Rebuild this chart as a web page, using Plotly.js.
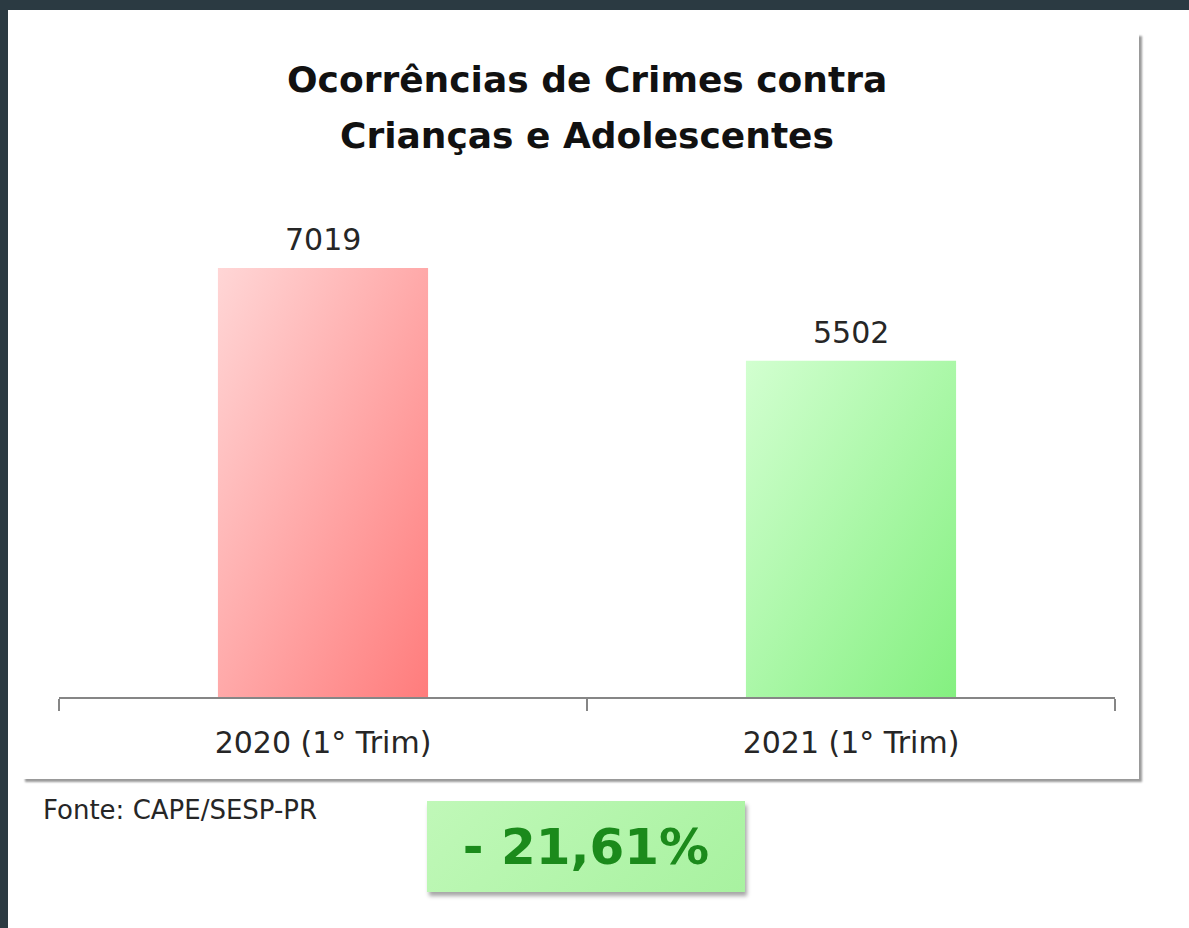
<!DOCTYPE html>
<html><head><meta charset="utf-8">
<script src="https://cdn.plot.ly/plotly-3.0.1.min.js"></script>
<style>
html,body{margin:0;padding:0;}
body{width:1189px;height:928px;background:#2b3a42;position:relative;overflow:hidden;font-family:"DejaVu Sans";}
#sheet{position:absolute;left:8px;top:10px;width:1181px;height:918px;background:#fff;}
#frame{position:absolute;left:22px;top:33px;width:1117px;height:746px;background:#fff;box-shadow:3px 3px 2px rgba(0,0,0,0.4);}
#chart{position:absolute;left:0;top:0;width:1189px;height:928px;}
#badge{position:absolute;left:427px;top:801px;width:318px;height:91px;background:linear-gradient(135deg,#c0f8b8,#a8f2a0);box-shadow:2px 4px 4px rgba(0,0,0,0.35);display:flex;align-items:center;justify-content:center;font-family:"DejaVu Sans";font-weight:bold;font-size:50px;color:#1b8a1b;}
</style></head>
<body>
<div id="sheet"></div>
<div id="frame"></div>
<div id="chart"></div>
<div id="badge"></div>
<script>
const categories = ['2020 (1° Trim)', '2021 (1° Trim)'];
const values = [7019, 5502];
const barColors = ['#ffa8a8', '#a8f5a5'];
const titleLines = ['Ocorrências de Crimes contra', 'Crianças e Adolescentes'];
const sourceText = 'Fonte: CAPE/SESP-PR';

const change = (values[1] - values[0]) / values[0] * 100;
document.getElementById('badge').textContent =
  (change < 0 ? '- ' : '+ ') + Math.abs(change).toFixed(2).replace('.', ',') + '%';

const font = 'DejaVu Sans';
const data = [{
  type: 'bar',
  x: categories,
  y: values,
  marker: {color: barColors, line: {width: 0}},
  hoverinfo: 'none'
}];

const annotations = values.map((v, i) => ({
  x: categories[i], y: v, xref: 'x', yref: 'y',
  text: String(v), showarrow: false, yanchor: 'bottom', yshift: 9,
  font: {family: font, size: 30, color: '#262626'}
}));
annotations.push({
  xref: 'paper', yref: 'paper', x: 0.5, y: 1, yanchor: 'bottom', yshift: 106,
  text: titleLines[0], showarrow: false,
  font: {family: font, size: 36, weight: 'bold', color: '#111'}
});
annotations.push({
  xref: 'paper', yref: 'paper', x: 0.5, y: 1, yanchor: 'bottom', yshift: 50,
  text: titleLines[1], showarrow: false,
  font: {family: font, size: 36, weight: 'bold', color: '#111'}
});
annotations.push({
  xref: 'paper', yref: 'paper', x: -0.017, xanchor: 'left', y: 0, yanchor: 'top', yshift: -96,
  text: sourceText, showarrow: false,
  font: {family: font, size: 26, color: '#262626'}
});

const layout = {
  width: 1189, height: 928,
  margin: {l: 59, r: 74, t: 208, b: 231, pad: 0},
  paper_bgcolor: 'rgba(0,0,0,0)', plot_bgcolor: 'rgba(0,0,0,0)',
  showlegend: false,
  bargap: 0.602,
  xaxis: {
    type: 'category', showline: true, linecolor: '#868686', linewidth: 1.5,
    ticks: 'outside', tickson: 'boundaries', ticklen: 12, tickcolor: '#868686', tickwidth: 1.5,
    ticklabelstandoff: 18, showgrid: false, zeroline: false,
    tickfont: {family: font, size: 30, color: '#262626'}
  },
  yaxis: {visible: false, range: [0, 8000]},
  annotations: annotations
};

Plotly.newPlot('chart', data, layout, {staticPlot: true, displayModeBar: false}).then(gd => {
  const ns = 'http://www.w3.org/2000/svg';
  const svg = gd.querySelector('.main-svg');
  let defs = svg.querySelector('defs');
  if (!defs) { defs = document.createElementNS(ns, 'defs'); svg.insertBefore(defs, svg.firstChild); }
  const grads = [['gRed', '#ffd6d6', '#ff7c7c'], ['gGreen', '#d2ffd0', '#84f080']];
  grads.forEach(([id, c1, c2]) => {
    const lg = document.createElementNS(ns, 'linearGradient');
    lg.setAttribute('id', id);
    lg.setAttribute('x1', '0'); lg.setAttribute('y1', '0');
    lg.setAttribute('x2', '1'); lg.setAttribute('y2', '1');
    [[0, c1], [1, c2]].forEach(([o, c]) => {
      const s = document.createElementNS(ns, 'stop');
      s.setAttribute('offset', o); s.setAttribute('stop-color', c);
      lg.appendChild(s);
    });
    defs.appendChild(lg);
  });
  gd.querySelectorAll('.bars .point path').forEach((p, i) => {
    p.style.fill = 'url(#' + grads[i % grads.length][0] + ')';
  });
});
</script>
</body></html>
